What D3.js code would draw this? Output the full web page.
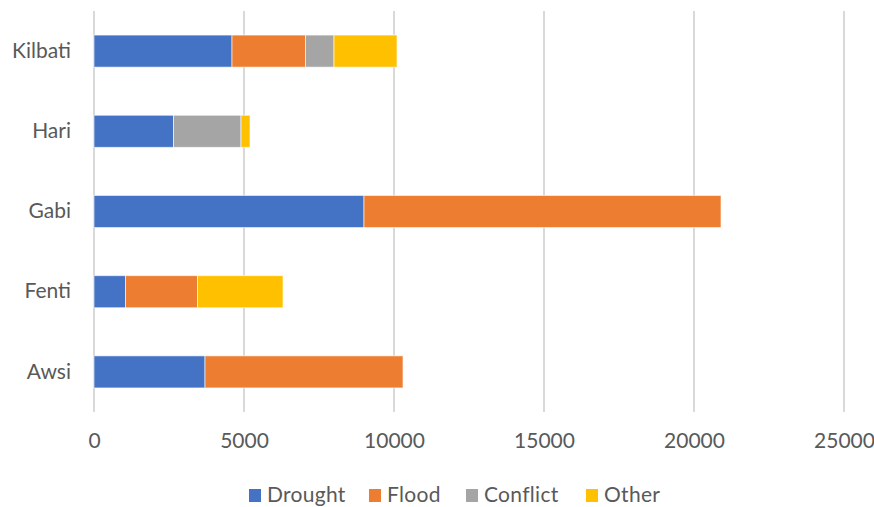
<!doctype html>
<html lang="en">
<head>
<meta charset="UTF-8">
<title>Stacked bars</title>
<script src="https://d3js.org/d3.v7.min.js"></script>
<style>
body { margin: 0; background-color: #ffffff; font-family: "Lato", "Open Sans", sans-serif; }
svg { display: block; }
.grid line { stroke: #d9d9d9; stroke-width: 2; }
.axis text { font-family: "Lato", sans-serif; font-size: 21px; fill: #595959; }
.legend text { font-family: "Lato", sans-serif; font-size: 21px; fill: #595959; letter-spacing: 0.3px; }
</style>
</head>
<body>
<div id="plot"></div>
<script>

var regions = ["Kilbati", "Hari", "Gabi", "Fenti", "Awsi"];
var causes = ["Drought", "Flood", "Conflict", "Other"];
var drought = [4600, 2650, 9000, 1050, 3700];
var flood = [2450, 0, 11900, 2400, 6600];
var conflict = [950, 2250, 0, 0, 0];
var other = [2100, 300, 0, 2850, 0];
var xTicks = [0, 5000, 10000, 15000, 20000, 25000];
var colors = ["#4472c4", "#ed7d31", "#a5a5a5", "#ffc000"];

var width = 874;
var height = 507;
var plotLeft = 94;
var plotRight = 844;
var plotTop = 11;
var plotBottom = 412;

var svg = d3.select("#plot").append("svg")
	.attr("width", width)
	.attr("height", height);

var rows = regions.map(function (r, i) {
	return { region: r, Drought: drought[i], Flood: flood[i], Conflict: conflict[i], Other: other[i] };
});

var stack = d3.stack().keys(causes)(rows);

var xScale = d3.scaleLinear().domain([0, 25000]).range([plotLeft, plotRight]);
var yScale = d3.scaleBand().domain(regions).range([plotTop, plotBottom]).paddingInner(0.6).paddingOuter(0.3);

// vertical gridlines
svg.append("g")
	.attr("class", "grid")
	.selectAll("line")
	.data(xTicks)
	.enter().append("line")
	.attr("x1", function (d) { return xScale(d); })
	.attr("x2", function (d) { return xScale(d); })
	.attr("y1", plotTop)
	.attr("y2", plotBottom);

// bars
svg.append("g")
	.selectAll("g")
	.data(stack)
	.enter().append("g")
	.style("fill", function (d, i) { return colors[i]; })
	.selectAll("rect")
	.data(function (d) { return d.filter(function (p) { return p[1] > p[0]; }); })
	.enter().append("rect")
	.attr("x", function (d) { return xScale(d[0]); })
	.attr("y", function (d) { return yScale(d.data.region); })
	.attr("width", function (d) { return xScale(d[1]) - xScale(d[0]); })
	.attr("height", yScale.bandwidth())
	.style("stroke", "#ffffff")
	.style("stroke-opacity", 0.6)
	.style("stroke-width", 1);

// x axis labels
var xAxis = d3.axisBottom(xScale).tickValues(xTicks).tickSize(0).tickPadding(0).tickFormat(d3.format("d"));
var gx = svg.append("g")
	.attr("class", "axis")
	.attr("transform", "translate(0," + 448 + ")")
	.call(xAxis);
gx.select(".domain").remove();
gx.selectAll("text").attr("dy", 0);

// y axis labels
var yAxis = d3.axisLeft(yScale).tickSize(0).tickPadding(0);
var gy = svg.append("g")
	.attr("class", "axis")
	.attr("transform", "translate(" + 71 + ",0)")
	.call(yAxis);
gy.select(".domain").remove();

// legend
var legendX = [249, 369, 466, 586];
var legend = svg.append("g").attr("class", "legend");
causes.forEach(function (c, i) {
	legend.append("rect")
		.attr("x", legendX[i])
		.attr("y", 489)
		.attr("width", 12)
		.attr("height", 13)
		.style("fill", colors[i]);
	legend.append("text")
		.attr("x", legendX[i] + 18)
		.attr("y", 502)
		.text(c);
});

</script>
</body>
</html>
